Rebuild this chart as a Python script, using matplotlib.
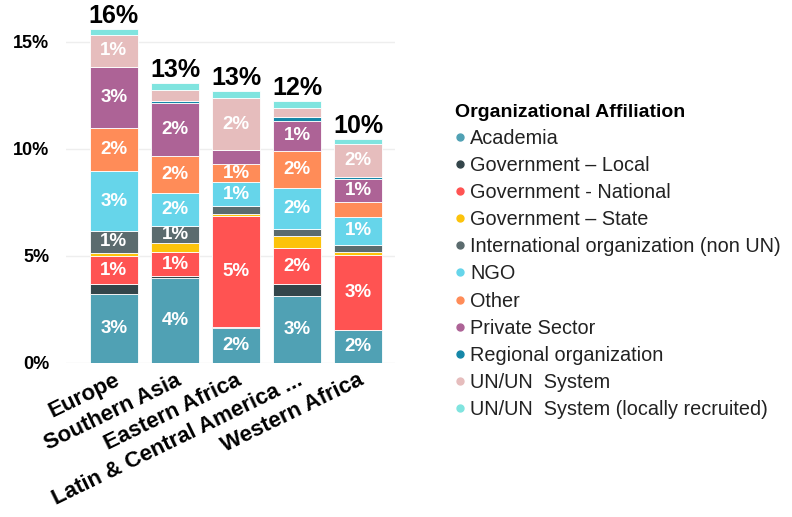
import matplotlib
matplotlib.use("Agg")
import matplotlib.pyplot as plt
import numpy as np
from matplotlib.lines import Line2D

plt.rcParams["font.family"] = ["Liberation Sans", "DejaVu Sans"]

regions = ["Europe", "Southern Asia", "Eastern Africa",
           "Latin & Central America ...", "Western Africa"]
totals = ["16%", "13%", "13%", "12%", "10%"]

categories = ["Academia", "Government \u2013 Local", "Government - National",
              "Government \u2013 State", "International organization (non UN)",
              "NGO", "Other", "Private Sector", "Regional organization",
              "UN/UN  System", "UN/UN  System (locally recruited)"]
colors = ["#50A1B4", "#33454A", "#FF5352", "#FCC30B", "#5B6B6E",
          "#66D5EA", "#FF8C58", "#AD6396", "#1587A8", "#E6BDBD", "#80E4DF"]

# percent share per region, one list per affiliation
academia = [3.22, 3.96, 1.64, 3.14, 1.54]
gov_local = [0.47, 0.09, 0.05, 0.53, 0.0]
gov_national = [1.29, 1.13, 5.16, 1.71, 3.49]
gov_state = [0.17, 0.44, 0.11, 0.55, 0.17]
intl_org = [1.00, 0.75, 0.35, 0.31, 0.30]
ngo = [2.80, 1.56, 1.12, 1.95, 1.32]
other = [2.04, 1.73, 0.86, 1.70, 0.68]
private = [2.85, 2.47, 0.66, 1.42, 1.08]
regional = [0.0, 0.09, 0.0, 0.16, 0.08]
un_system = [1.49, 0.50, 2.40, 0.42, 1.54]
un_local = [0.24, 0.35, 0.33, 0.33, 0.24]

series = [academia, gov_local, gov_national, gov_state, intl_org, ngo,
          other, private, regional, un_system, un_local]

fig = plt.figure(figsize=(7.92, 5.17), dpi=100)
ax = fig.add_axes([0.083, 0.298, 0.416, 0.696])

x = np.arange(len(regions))
bottom = np.zeros(len(regions))
for vals, col in zip(series, colors):
    vals = np.array(vals)
    ax.bar(x, vals, width=0.79, bottom=bottom, color=col,
           edgecolor="white", linewidth=0.6, zorder=3)
    for xi, b, v in zip(x, bottom, vals):
        if v >= 0.72:
            ax.text(xi, b + v / 2, f"{v:.0f}%", ha="center", va="center",
                    color="white", fontsize=13.5, fontweight="bold", zorder=4)
    bottom += vals

for xi, top, lab in zip(x, bottom, totals):
    ax.text(xi, top + 0.05, lab, ha="center", va="bottom",
            fontsize=18, fontweight="bold", color="black", zorder=4)

ax.set_xlim(-0.79, 4.61)
ax.set_ylim(0, 16.8)
ax.set_yticks([0, 5, 10, 15])
ax.set_yticklabels(["0%", "5%", "10%", "15%"], fontsize=13, fontweight="bold")
ax.set_xticks(x)
ax.set_xticklabels(regions, rotation=26, ha="right", rotation_mode="anchor",
                   fontsize=16, fontweight="bold")
ax.tick_params(axis="y", length=0, pad=12)
ax.tick_params(axis="x", length=0, pad=5)
ax.grid(axis="y", color="#EEEEEE", linewidth=1, zorder=0)
for s in ax.spines.values():
    s.set_visible(False)

handles = [Line2D([], [], marker="o", linestyle="", markersize=5,
                  markerfacecolor=c, markeredgecolor=c) for c in colors]
leg = fig.legend(handles, categories, loc="upper left",
                 bbox_to_anchor=(0.565, 0.815), frameon=False,
                 fontsize=14.3, handlelength=0.5, handletextpad=0.25,
                 labelspacing=0.41, borderaxespad=0,
                 title="Organizational Affiliation",
                 title_fontproperties={"weight": "bold", "size": 14})
leg._legend_box.align = "left"
for t in leg.get_texts():
    t.set_color("#222222")

fig.savefig("out.png", dpi=100)
